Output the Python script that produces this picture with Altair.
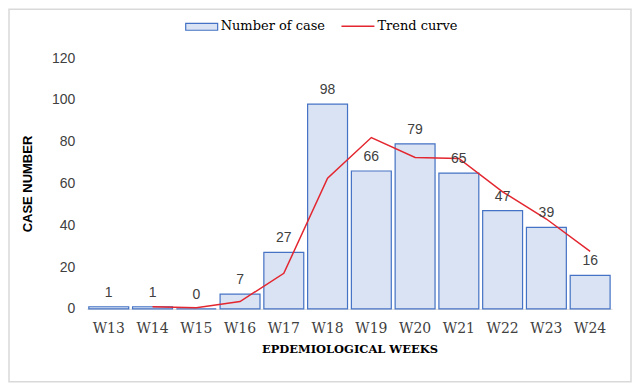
import altair as alt
import pandas as pd

weeks = ["W13", "W14", "W15", "W16", "W17", "W18", "W19", "W20", "W21", "W22", "W23", "W24"]
cases = [1, 1, 0, 7, 27, 98, 66, 79, 65, 47, 39, 16]
trend = [None, 1, 0.5, 3.5, 17, 62.5, 82, 72.5, 72, 56, 43, 27.5]

df = pd.DataFrame({"week": weeks, "cases": cases, "trend": trend})

BAR_FILL = "#dae3f3"
BAR_STROKE = "#4472c4"
LINE_RED = "#e3262f"
SERIF = "DejaVu Serif"
SANS = "Liberation Sans"

x_enc = alt.X(
    "week:N",
    sort=weeks,
    scale=alt.Scale(paddingInner=0.088, paddingOuter=0.044),
    axis=alt.Axis(
        title="EPDEMIOLOGICAL WEEKS",
        titleFont=SERIF,
        titleFontSize=11.5,
        titleFontWeight="bold",
        titleColor="#000000",
        titlePadding=8,
        labelFont=SERIF,
        labelFontSize=14,
        labelColor="#404040",
        labelAngle=0,
        labelPadding=13,
        ticks=False,
        domainColor="#d9d9d9",
        domainWidth=1,
        grid=False,
    ),
)

y_scale = alt.Scale(domain=[0, 120])

bars = alt.Chart(df).mark_bar(
    fill=BAR_FILL, stroke=BAR_STROKE, strokeWidth=1.2
).encode(
    x=x_enc,
    y=alt.Y(
        "cases:Q",
        scale=y_scale,
        axis=alt.Axis(
            title="CASE NUMBER",
            titleFont=SANS,
            titleFontSize=13,
            titleFontWeight="bold",
            titleColor="#000000",
            titlePadding=17,
            labelFont=SANS,
            labelFontSize=14,
            labelColor="#404040",
            labelPadding=12,
            values=[0, 20, 40, 60, 80, 100, 120],
            ticks=False,
            domain=False,
            grid=False,
        ),
    ),
)

labels = alt.Chart(df).mark_text(
    font=SANS, fontSize=14, color="#404040", baseline="alphabetic", dy=-10
).encode(
    x=alt.X("week:N", sort=weeks),
    y=alt.Y("cases:Q", scale=y_scale),
    text=alt.Text("cases:Q"),
)

line = alt.Chart(df).transform_filter("datum.trend != null").mark_line(
    color=LINE_RED, strokeWidth=1.5
).encode(
    x=alt.X("week:N", sort=weeks),
    y=alt.Y("trend:Q", scale=y_scale),
)

one = pd.DataFrame({"k": [0]})

border = alt.Chart(one).mark_rect(
    fill=None, stroke="#d9d9d9", strokeWidth=1.5
).encode(
    x=alt.value(-78), x2=alt.value(545), y=alt.value(-49), y2=alt.value(324)
)

leg_rect = alt.Chart(one).mark_rect(
    fill=BAR_FILL, stroke=BAR_STROKE, strokeWidth=1.2
).encode(
    x=alt.value(99), x2=alt.value(131), y=alt.value(-35), y2=alt.value(-28)
)
leg_text1 = alt.Chart(one).mark_text(
    font=SERIF, fontSize=13, color="#000000", align="left", baseline="middle"
).encode(x=alt.value(134), y=alt.value(-32), text=alt.value("Number of case"))

leg_line = alt.Chart(one).mark_rule(color=LINE_RED, strokeWidth=1.5).encode(
    x=alt.value(255), x2=alt.value(288), y=alt.value(-32)
)
leg_text2 = alt.Chart(one).mark_text(
    font=SERIF, fontSize=13, color="#000000", align="left", baseline="middle"
).encode(x=alt.value(291), y=alt.value(-32), text=alt.value("Trend curve"))

chart = alt.layer(
    border, bars, line, labels, leg_rect, leg_text1, leg_line, leg_text2
).properties(
    width=526,
    height=251,
    autosize=alt.AutoSizeParams(type="none"),
    padding={"left": 79, "top": 50, "right": 20, "bottom": 74},
).configure_view(stroke=None)

chart.save("out.html", embed_options={"renderer": "svg", "actions": False})
